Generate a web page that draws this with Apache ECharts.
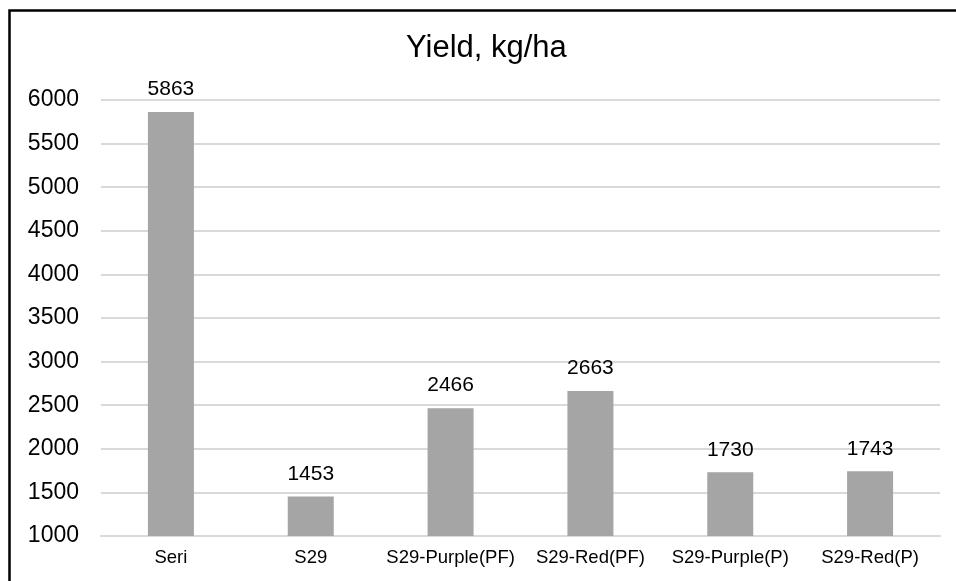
<!DOCTYPE html>
<html>
<head>
<meta charset="utf-8">
<script src="https://cdn.jsdelivr.net/npm/echarts@6/dist/echarts.min.js"></script>
<style>
  html, body { margin: 0; padding: 0; background: #fff; }
  #chart { width: 956px; height: 581px; }
</style>
</head>
<body>
<div id="chart"></div>
<script>
// data
var categories = ['Seri', 'S29', 'S29-Purple(PF)', 'S29-Red(PF)', 'S29-Purple(P)', 'S29-Red(P)'];
var yieldValues = [5863, 1453, 2466, 2663, 1730, 1743];
var chartTitle = 'Yield, kg/ha';

var font = 'Liberation Sans, Arial, sans-serif';
var chart = echarts.init(document.getElementById('chart'));

chart.setOption({
  backgroundColor: '#fff',
  animation: false,
  title: {
    text: chartTitle,
    left: 406,
    top: 33,
    padding: 0,
    textStyle: { fontFamily: font, fontSize: 31, fontWeight: 'normal', color: '#000' }
  },
  // chart frame (only left/top edges are visible in the picture)
  graphic: [{
    type: 'rect',
    shape: { x: 9.5, y: 10.5, width: 1000, height: 700 },
    style: { fill: 'none', stroke: '#000', lineWidth: 2.5 },
    silent: true
  }],
  grid: { left: 101, right: 16, top: 100, bottom: 45 },
  xAxis: {
    type: 'category',
    data: categories,
    axisTick: { show: false },
    axisLine: { lineStyle: { color: '#d9d9d9', width: 2 } },
    axisLabel: { fontFamily: font, fontSize: 18.5, color: '#000', margin: 12, interval: 0 }
  },
  yAxis: {
    type: 'value',
    min: 1000,
    max: 6000,
    interval: 500,
    axisLine: { show: false },
    axisTick: { show: false },
    splitLine: { lineStyle: { color: '#d9d9d9', width: 2 } },
    axisLabel: {
      fontFamily: font, fontSize: 23, color: '#000', margin: 22,
      formatter: function (v) { return String(v); }
    }
  },
  series: [{
    type: 'bar',
    data: yieldValues,
    barWidth: 46,
    itemStyle: { color: '#a5a5a5' },
    label: {
      show: true,
      position: 'top',
      distance: 12,
      fontFamily: font,
      fontSize: 21,
      color: '#000'
    }
  }]
});
</script>
</body>
</html>
